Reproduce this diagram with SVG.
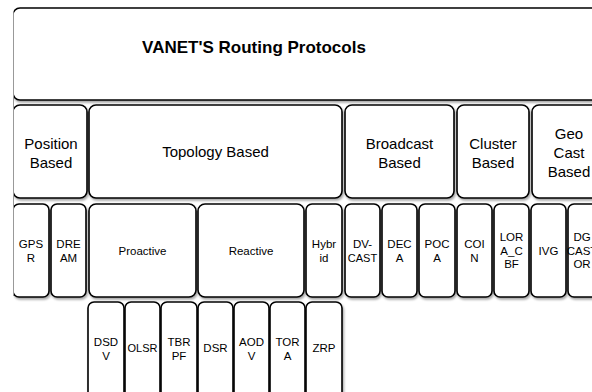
<svg xmlns="http://www.w3.org/2000/svg" width="592" height="392" viewBox="0 0 592 392">
<style>
.b{fill:#fff;stroke:#000;stroke-width:1.6;filter:url(#sh)}
.t{font-family:"Liberation Sans",Arial,sans-serif;fill:#000;text-anchor:middle}
.title{font-size:17px;font-weight:bold}
.l2{font-size:15px}
.l3{font-size:11.5px}
.s{font-size:11px}
</style>
<defs>
<filter id="sh" x="-10%" y="-10%" width="130%" height="130%">
<feDropShadow dx="1.2" dy="2" stdDeviation="1.2" flood-color="#000" flood-opacity="0.35"/>
</filter>
<clipPath id="cl"><rect x="13.5" y="0" width="580" height="392"/></clipPath>
</defs>
<rect width="592" height="392" fill="#fff"/>
<g clip-path="url(#cl)">
<g id="root"><rect class="b" x="13" y="8" width="640" height="92" rx="7"/>
<text class="t title" x="254" y="53">VANET'S Routing Protocols</text></g>

<g id="position"><rect class="b" x="13" y="105" width="74" height="93" rx="7"/>
<text class="t l2" x="51" y="149">Position</text><text class="t l2" x="51" y="168">Based</text></g>
<g id="topology"><rect class="b" x="89" y="105" width="253" height="93" rx="7"/>
<text class="t l2" x="215.5" y="157">Topology Based</text></g>
<g id="broadcast"><rect class="b" x="345" y="105" width="109" height="93" rx="7"/>
<text class="t l2" x="399.5" y="149">Broadcast</text><text class="t l2" x="399.5" y="168">Based</text></g>
<g id="cluster"><rect class="b" x="457" y="105" width="72" height="93" rx="7"/>
<text class="t l2" x="493" y="149">Cluster</text><text class="t l2" x="493" y="168">Based</text></g>
<g id="geocast"><rect class="b" x="532" y="105" width="74" height="93" rx="7"/>
<text class="t l2" x="569" y="139">Geo</text><text class="t l2" x="569" y="158">Cast</text><text class="t l2" x="569" y="177">Based</text></g>

<g id="gpsr"><rect class="b" x="13" y="204" width="36" height="93" rx="6"/>
<text class="t l3" x="31" y="248">GPS</text><text class="t l3" x="31" y="261.5">R</text></g>
<g id="dream"><rect class="b" x="51" y="204" width="35" height="93" rx="6"/>
<text class="t l3" x="68.5" y="248">DRE</text><text class="t l3" x="68.5" y="261.5">AM</text></g>
<g id="proactive"><rect class="b" x="89" y="204" width="107" height="93" rx="7"/>
<text class="t l3" x="142.5" y="255">Proactive</text></g>
<g id="reactive"><rect class="b" x="198" y="204" width="106" height="93" rx="7"/>
<text class="t l3" x="251" y="255">Reactive</text></g>
<g id="hybrid"><rect class="b" x="306" y="204" width="36" height="93" rx="6"/>
<text class="t l3" x="324" y="248">Hybr</text><text class="t l3" x="324" y="261.5">id</text></g>
<g id="dvcast"><rect class="b" x="345" y="204" width="35" height="93" rx="6"/>
<text class="t l3" x="362.5" y="248">DV-</text><text class="t s" x="362.5" y="261.5">CAST</text></g>
<g id="deca"><rect class="b" x="382" y="204" width="35" height="93" rx="6"/>
<text class="t l3" x="399.5" y="248">DEC</text><text class="t l3" x="399.5" y="261.5">A</text></g>
<g id="poca"><rect class="b" x="419" y="204" width="36" height="93" rx="6"/>
<text class="t l3" x="437" y="248">POC</text><text class="t l3" x="437" y="261.5">A</text></g>
<g id="coin"><rect class="b" x="457" y="204" width="35" height="93" rx="6"/>
<text class="t l3" x="474.5" y="248">COI</text><text class="t l3" x="474.5" y="261.5">N</text></g>
<g id="loracbf"><rect class="b" x="494" y="204" width="35" height="93" rx="6"/>
<text class="t l3" x="511.5" y="241">LOR</text><text class="t l3" x="511.5" y="254.5">A_C</text><text class="t l3" x="511.5" y="268">BF</text></g>
<g id="ivg"><rect class="b" x="531" y="204" width="35" height="93" rx="6"/>
<text class="t l3" x="548.5" y="255">IVG</text></g>
<g id="dgcastor"><rect class="b" x="568" y="204" width="36" height="93" rx="6"/>
<text class="t l3" x="582" y="241">DG</text><text class="t l3" x="582" y="254.5">CAST</text><text class="t l3" x="582" y="268">OR</text></g>
</g>
<line x1="13.5" y1="14" x2="13.5" y2="296" stroke="#999" stroke-width="1"/>

<g id="dsdv"><rect class="b" x="88" y="302" width="36" height="100" rx="6"/>
<text class="t l3" x="106" y="346">DSD</text><text class="t l3" x="106" y="359.5">V</text></g>
<g id="olsr"><rect class="b" x="125" y="302" width="35" height="100" rx="6"/>
<text class="t s" x="142.5" y="352">OLSR</text></g>
<g id="tbrpf"><rect class="b" x="161" y="302" width="36" height="100" rx="6"/>
<text class="t l3" x="179" y="346">TBR</text><text class="t l3" x="179" y="359.5">PF</text></g>
<g id="dsr"><rect class="b" x="198" y="302" width="35" height="100" rx="6"/>
<text class="t l3" x="215.5" y="352">DSR</text></g>
<g id="aodv"><rect class="b" x="234" y="302" width="35" height="100" rx="6"/>
<text class="t l3" x="251.5" y="346">AOD</text><text class="t l3" x="251.5" y="359.5">V</text></g>
<g id="tora"><rect class="b" x="270" y="302" width="35" height="100" rx="6"/>
<text class="t l3" x="287.5" y="346">TOR</text><text class="t l3" x="287.5" y="359.5">A</text></g>
<g id="zrp"><rect class="b" x="306" y="302" width="36" height="100" rx="6"/>
<text class="t l3" x="324" y="352">ZRP</text></g>
<g id="connectors"/>
</svg>
